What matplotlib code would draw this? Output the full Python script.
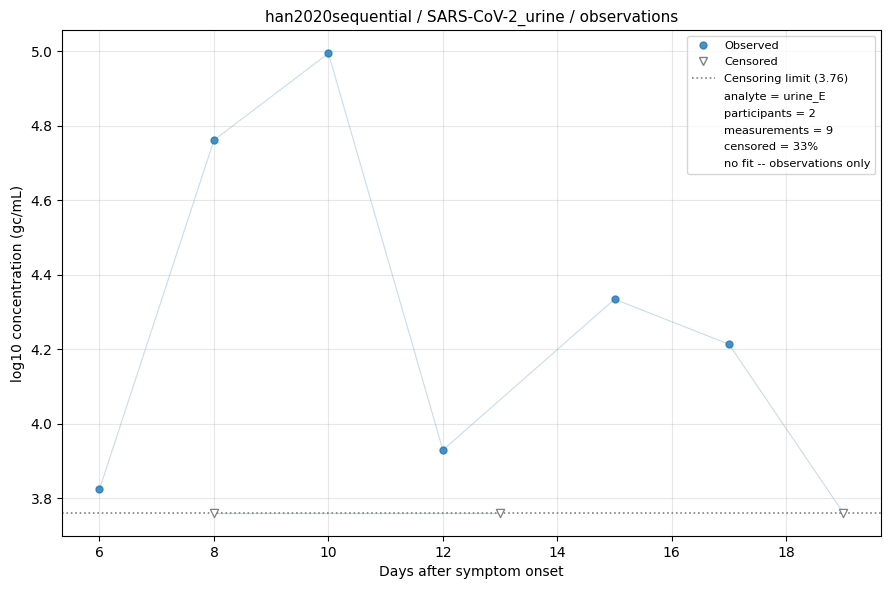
import matplotlib
matplotlib.use("Agg")
import matplotlib.pyplot as plt
from matplotlib.lines import Line2D

# observations per participant
p1_days = [6, 8, 10, 12, 15, 17, 19]
p1_vals = [3.824, 4.761, 4.994, 3.929, 4.334, 4.213, 3.76]
p1_cens = [False, False, False, False, False, False, True]

p2_days = [8, 13]
p2_vals = [3.76, 3.76]
p2_cens = [True, True]

limit = 3.76
info = ["analyte = urine_E", "participants = 2", "measurements = 9",
        "censored = 33%", "no fit -- observations only"]

fig, ax = plt.subplots(figsize=(8.9, 5.9), dpi=100)

for days, vals, cens in [(p1_days, p1_vals, p1_cens), (p2_days, p2_vals, p2_cens)]:
    ax.plot(days, vals, color="tab:blue", alpha=0.25, lw=0.8, zorder=1)
    od = [d for d, c in zip(days, cens) if not c]
    ov = [v for v, c in zip(vals, cens) if not c]
    cd = [d for d, c in zip(days, cens) if c]
    cv = [v for v, c in zip(vals, cens) if c]
    ax.scatter(od, ov, s=25, color="tab:blue", alpha=0.8, zorder=3)
    ax.scatter(cd, cv, s=35, marker="v", facecolor="white", edgecolor="gray", lw=0.9, zorder=3)

ax.axhline(limit, color="gray", ls=":", lw=1.2, zorder=2)

handles = [
    Line2D([], [], ls="", marker="o", color="tab:blue", alpha=0.8, markersize=5),
    Line2D([], [], ls="", marker="v", mfc="white", mec="gray", markersize=6),
    Line2D([], [], ls=":", color="gray", lw=1.2),
] + [Line2D([], [], ls="", marker="") for _ in info]
labels = ["Observed", "Censored", f"Censoring limit ({limit})"] + info
ax.legend(handles, labels, fontsize=8.2, loc="upper right", labelspacing=0.6)

ax.set_xlabel("Days after symptom onset")
ax.set_ylabel("log10 concentration (gc/mL)")
ax.set_title("han2020sequential / SARS-CoV-2_urine / observations", fontsize=11)
ax.grid(True, alpha=0.3)

fig.subplots_adjust(left=0.07, right=0.9895, top=0.9486, bottom=0.0915)
fig.savefig("out.png")
